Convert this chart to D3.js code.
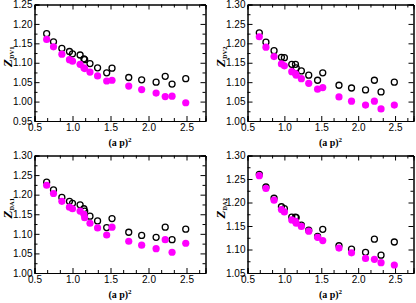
<!DOCTYPE html>
<html>
<head>
<meta charset="utf-8">
<script src="https://cdn.jsdelivr.net/npm/d3@7"></script>
<style>
  html, body { margin: 0; padding: 0; background: #fff; }
  svg { display: block; font-family: "Liberation Serif", "Times New Roman", serif; }
  .tick text { font-size: 10px; fill: #000; }
  .domain { stroke: #000; }
</style>
</head>
<body>
<svg id="chart" width="416" height="303"></svg>
<script>
// ////// DATA

// (a p)^2 values, shared by all four panels
const apSq = [0.66, 0.75, 0.86, 0.96, 1.00, 1.10, 1.15, 1.16, 1.23, 1.33, 1.45, 1.52, 1.74, 1.91, 2.10, 2.22, 2.31, 2.49];

// open black circles
const zDV1Open = [1.175, 1.154, 1.137, 1.129, 1.123, 1.120, 1.110, 1.108, 1.098, 1.087, 1.074, 1.086, 1.062, 1.056, 1.050, 1.065, 1.045, 1.059];
const zDV2Open = [1.227, 1.203, 1.181, 1.164, 1.163, 1.146, 1.146, 1.137, 1.129, 1.118, 1.105, 1.124, 1.092, 1.085, 1.080, 1.105, 1.075, 1.100];
const zDA1Open = [1.232, 1.212, 1.193, 1.183, 1.178, 1.174, 1.164, 1.158, 1.145, 1.133, 1.116, 1.139, 1.104, 1.096, 1.091, 1.117, 1.085, 1.112];
const zDA2Open = [1.260, 1.233, 1.209, 1.191, 1.187, 1.169, 1.169, 1.168, 1.152, 1.141, 1.128, 1.143, 1.108, 1.101, 1.094, 1.122, 1.088, 1.116];

// filled magenta circles
const zDV1Filled = [1.160, 1.141, 1.122, 1.108, 1.104, 1.096, 1.087, 1.085, 1.076, 1.066, 1.053, 1.055, 1.040, 1.031, 1.022, 1.013, 1.014, 0.997];
const zDV2Filled = [1.217, 1.190, 1.166, 1.147, 1.142, 1.127, 1.122, 1.118, 1.109, 1.097, 1.082, 1.086, 1.062, 1.051, 1.041, 1.051, 1.031, 1.041];
const zDA1Filled = [1.224, 1.203, 1.183, 1.168, 1.164, 1.158, 1.150, 1.141, 1.127, 1.115, 1.097, 1.117, 1.081, 1.071, 1.062, 1.085, 1.053, 1.076];
const zDA2Filled = [1.257, 1.230, 1.205, 1.185, 1.180, 1.163, 1.160, 1.156, 1.149, 1.139, 1.126, 1.119, 1.103, 1.093, 1.081, 1.079, 1.072, 1.067];

// axis ticks
const xTicks = [0.5, 1.0, 1.5, 2.0, 2.5];
const yTicksDV1 = [0.95, 1.00, 1.05, 1.10, 1.15, 1.20, 1.25];
const yTicksTo130 = [1.00, 1.05, 1.10, 1.15, 1.20, 1.25, 1.30];
const yTicksDA2 = [1.05, 1.10, 1.15, 1.20, 1.25, 1.30];

const subLabels = ["DV1", "DV2", "DA1", "DA2"];

// ////// LAYOUT

const svg = d3.select("#chart");

const panels = [
  { sub: subLabels[0], open: zDV1Open, filled: zDV1Filled, yTicks: yTicksDV1, box: [34.5, 205.5, 4.5, 121], labX: 12 },
  { sub: subLabels[1], open: zDV2Open, filled: zDV2Filled, yTicks: yTicksTo130, box: [247.5, 413.5, 4.5, 121], labX: 225 },
  { sub: subLabels[2], open: zDA1Open, filled: zDA1Filled, yTicks: yTicksTo130, box: [34.5, 205.5, 155.5, 273], labX: 12 },
  { sub: subLabels[3], open: zDA2Open, filled: zDA2Filled, yTicks: yTicksDA2, box: [247.5, 413.5, 155.5, 273], labX: 225 },
];

// minor ticks between majors (n subdivisions)
function minors(ticks, n) {
  const out = [];
  const step = ticks[1] - ticks[0];
  for (let i = 0; i < ticks.length - 1; i++) {
    for (let k = 1; k < n; k++) out.push(ticks[i] + (step * k) / n);
  }
  return out;
}

function drawPanel(p) {
  const [x0, x1, y0, y1] = p.box;
  const yDom = [p.yTicks[0], p.yTicks[p.yTicks.length - 1]];

  const x = d3.scaleLinear().domain([0.5, 2.75]).range([x0, x1]);
  const y = d3.scaleLinear().domain(yDom).range([y1, y0]);

  const g = svg.append("g");

  const xMinor = minors(xTicks.concat([3.0]), 3).filter((v) => v < 2.75);
  const yMinor = minors(p.yTicks, 2);

  // bottom axis with labels
  g.append("g")
    .attr("transform", `translate(0,${y1})`)
    .call(d3.axisBottom(x).tickValues(xTicks).tickFormat(d3.format(".1f")).tickSize(-5).tickPadding(3));
  g.append("g")
    .attr("transform", `translate(0,${y1})`)
    .call(d3.axisBottom(x).tickValues(xMinor).tickFormat("").tickSize(-3));

  // top mirror
  g.append("g")
    .attr("transform", `translate(0,${y0})`)
    .call(d3.axisTop(x).tickValues(xTicks).tickFormat("").tickSize(-5));
  g.append("g")
    .attr("transform", `translate(0,${y0})`)
    .call(d3.axisTop(x).tickValues(xMinor).tickFormat("").tickSize(-3));

  // left axis with labels
  g.append("g")
    .attr("transform", `translate(${x0},0)`)
    .call(d3.axisLeft(y).tickValues(p.yTicks).tickFormat(d3.format(".2f")).tickSize(-5).tickPadding(2));
  g.append("g")
    .attr("transform", `translate(${x0},0)`)
    .call(d3.axisLeft(y).tickValues(yMinor).tickFormat("").tickSize(-3));

  // right mirror
  g.append("g")
    .attr("transform", `translate(${x1},0)`)
    .call(d3.axisRight(y).tickValues(p.yTicks).tickFormat("").tickSize(-5));
  g.append("g")
    .attr("transform", `translate(${x1},0)`)
    .call(d3.axisRight(y).tickValues(yMinor).tickFormat("").tickSize(-3));

  g.selectAll(".domain").attr("stroke-width", 1);
  g.selectAll(".tick line").attr("stroke", "#000");

  // open black circles
  g.append("g")
    .selectAll("circle")
    .data(apSq.map((a, i) => [a, p.open[i]]))
    .join("circle")
    .attr("cx", (d) => x(d[0]))
    .attr("cy", (d) => y(d[1]))
    .attr("r", 3)
    .attr("fill", "none")
    .attr("stroke", "#000")
    .attr("stroke-width", 1.3);

  // filled magenta circles
  g.append("g")
    .selectAll("circle")
    .data(apSq.map((a, i) => [a, p.filled[i]]))
    .join("circle")
    .attr("cx", (d) => x(d[0]))
    .attr("cy", (d) => y(d[1]))
    .attr("r", 3.6)
    .attr("fill", "#ff00ff");

  // x label
  const xl = g.append("text")
    .attr("x", (x0 + x1) / 2)
    .attr("y", y1 + 25)
    .attr("text-anchor", "middle")
    .attr("font-size", 10)
    .attr("font-weight", "bold");
  xl.append("tspan").text("(a p)");
  xl.append("tspan").attr("font-size", 7).attr("dy", -4).text("2");

  // y label
  const yl = g.append("text")
    .attr("transform", `translate(${p.labX},${(y0 + y1) / 2 - 6}) rotate(-90)`)
    .attr("text-anchor", "middle")
    .attr("font-weight", "bold");
  yl.append("tspan").attr("font-size", 13).attr("font-style", "italic").text("Z");
  yl.append("tspan").attr("font-size", 6.5).attr("dy", 2).text(p.sub);
}

panels.forEach(drawPanel);
</script>
</body>
</html>
